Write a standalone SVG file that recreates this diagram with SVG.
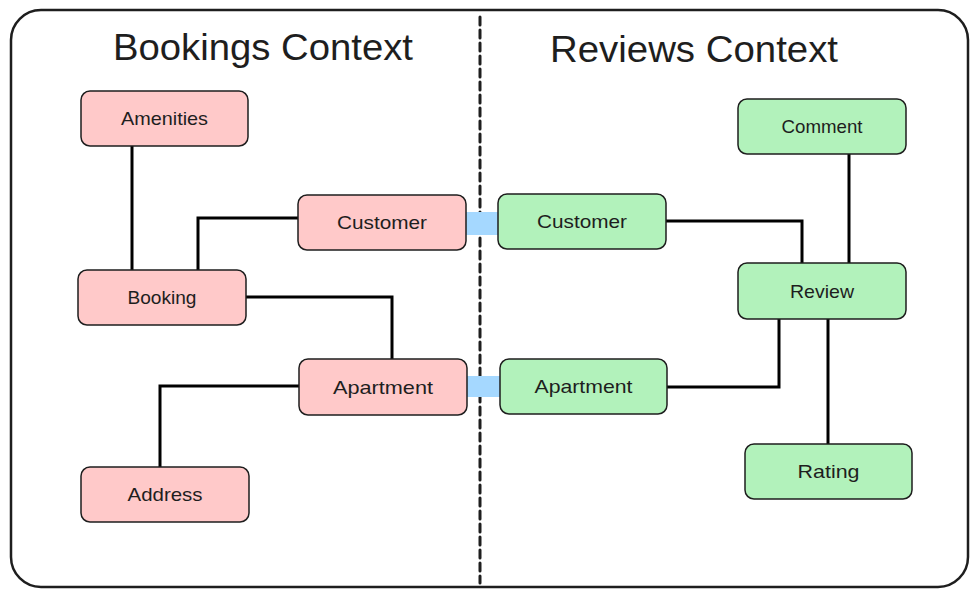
<svg xmlns="http://www.w3.org/2000/svg" width="978" height="597" viewBox="0 0 978 597">
<style>
.frame{fill:#ffffff;stroke:#1e1e1e;stroke-width:2.5}
.divider{fill:none;stroke:#1e1e1e;stroke-width:3;stroke-dasharray:8 5;stroke-linecap:round}
.pink{fill:#ffc9c9;stroke:#1e1e1e;stroke-width:1.5}
.green{fill:#b2f2bb;stroke:#1e1e1e;stroke-width:1.5}
.bridge{fill:#a5d8ff;stroke:none}
.conn{fill:none;stroke:#000000;stroke-width:3}
.title{font-family:"Liberation Sans","DejaVu Sans",sans-serif;font-size:36px;fill:#1e1e1e;text-anchor:middle}
.label{font-family:"Liberation Sans","DejaVu Sans",sans-serif;font-size:19px;fill:#1e1e1e;text-anchor:middle;dominant-baseline:central}
</style>
<rect width="978" height="597" fill="#ffffff"/>
<rect id="frame" class="frame" x="11" y="10" width="957" height="577" rx="30" ry="30"/>
<line id="divider" class="divider" x1="480" y1="17" x2="480" y2="583"/>
<text id="title-bookings" class="title" x="263" y="60" textLength="300" lengthAdjust="spacingAndGlyphs">Bookings Context</text>
<text id="title-reviews" class="title" x="694" y="62" textLength="288" lengthAdjust="spacingAndGlyphs">Reviews Context</text>
<g id="connectors">
<path class="conn" d="M132 146 V270"/>
<path class="conn" d="M298 218 H198 V270"/>
<path class="conn" d="M246 297 H392 V359"/>
<path class="conn" d="M299 386 H160 V467"/>
<path class="conn" d="M666 221 H802 V263"/>
<path class="conn" d="M849 154 V263"/>
<path class="conn" d="M667 387 H779 V319"/>
<path class="conn" d="M828 319 V444"/>
<rect class="bridge" x="466" y="212" width="32" height="23"/>
<rect class="bridge" x="467" y="376" width="33" height="21"/>
</g>
<g id="amenities"><rect class="pink" x="81" y="91" width="167" height="55" rx="9"/><text class="label" x="164.5" y="118.5" textLength="87" lengthAdjust="spacingAndGlyphs">Amenities</text></g>
<g id="customer-bookings"><rect class="pink" x="298" y="195" width="168" height="55" rx="9"/><text class="label" x="382" y="222.5" textLength="90" lengthAdjust="spacingAndGlyphs">Customer</text></g>
<g id="booking"><rect class="pink" x="78" y="270" width="168" height="55" rx="9"/><text class="label" x="162" y="297.5" textLength="69" lengthAdjust="spacingAndGlyphs">Booking</text></g>
<g id="apartment-bookings"><rect class="pink" x="299" y="359" width="168" height="56" rx="9"/><text class="label" x="383" y="387" textLength="100" lengthAdjust="spacingAndGlyphs">Apartment</text></g>
<g id="address"><rect class="pink" x="81" y="467" width="168" height="55" rx="9"/><text class="label" x="165" y="494.5" textLength="75" lengthAdjust="spacingAndGlyphs">Address</text></g>
<g id="comment"><rect class="green" x="738" y="99" width="168" height="55" rx="9"/><text class="label" x="822" y="126.5" textLength="81" lengthAdjust="spacingAndGlyphs">Comment</text></g>
<g id="customer-reviews"><rect class="green" x="498" y="194" width="168" height="55" rx="9"/><text class="label" x="582" y="221.5" textLength="90" lengthAdjust="spacingAndGlyphs">Customer</text></g>
<g id="review"><rect class="green" x="738" y="263" width="168" height="56" rx="9"/><text class="label" x="822" y="291" textLength="64" lengthAdjust="spacingAndGlyphs">Review</text></g>
<g id="apartment-reviews"><rect class="green" x="500" y="359" width="167" height="55" rx="9"/><text class="label" x="583.5" y="386.5" textLength="98" lengthAdjust="spacingAndGlyphs">Apartment</text></g>
<g id="rating"><rect class="green" x="745" y="444" width="167" height="55" rx="9"/><text class="label" x="828.5" y="471.5" textLength="62" lengthAdjust="spacingAndGlyphs">Rating</text></g>
</svg>
